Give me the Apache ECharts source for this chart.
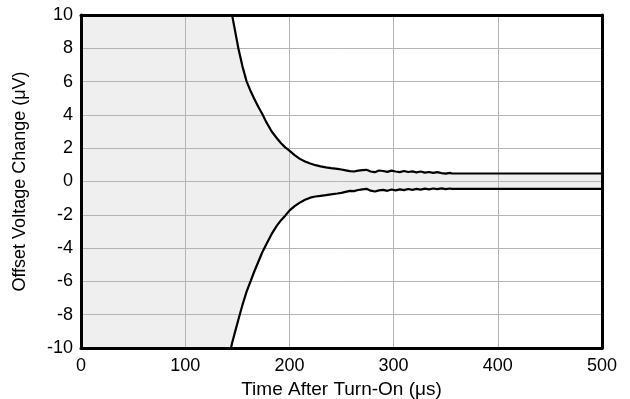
<!DOCTYPE html>
<html>
<head>
<meta charset="utf-8">
<script src="https://cdn.jsdelivr.net/npm/echarts@6/dist/echarts.min.js"></script>
<style>html,body{margin:0;padding:0;background:#fff;}#c{width:630px;height:399px;}</style>
</head>
<body>
<div id="c"></div>
<script>
// Time after turn-on (µs)
var timeUs = [144, 145, 148, 151, 155, 159, 163, 166, 170, 174, 178, 183, 188, 192, 196, 200, 205, 210, 215, 220, 225, 230, 235, 240, 246,
  250, 254, 258, 262, 266, 270, 274, 278, 282, 286, 290, 294, 298, 302, 306, 310, 314, 318, 322, 326, 330, 334, 338, 342, 346, 350, 354, 356, 500];
// Upper envelope (µV)
var upperUv = [10.3, 10.0, 9.0, 8.0, 6.9, 6.0, 5.4, 5.0, 4.5, 4.05, 3.55, 3.0, 2.6, 2.3, 2.05, 1.85, 1.58, 1.36, 1.2, 1.08, 0.98, 0.91, 0.85, 0.8, 0.76,
  0.72, 0.67, 0.62, 0.6, 0.65, 0.68, 0.7, 0.6, 0.56, 0.66, 0.63, 0.58, 0.65, 0.6, 0.56, 0.63, 0.57, 0.61, 0.55, 0.6, 0.53, 0.57, 0.52, 0.56, 0.5, 0.47, 0.52, 0.48, 0.48];
// Lower envelope (µV)
var lowerUv = [-10.0, -9.7, -9.0, -8.3, -7.4, -6.6, -5.95, -5.45, -4.85, -4.25, -3.75, -3.15, -2.65, -2.32, -2.05, -1.75, -1.48, -1.27, -1.1, -0.97, -0.9, -0.86, -0.82, -0.77, -0.72,
  -0.68, -0.62, -0.56, -0.58, -0.51, -0.47, -0.44, -0.55, -0.6, -0.53, -0.5, -0.56, -0.48, -0.53, -0.47, -0.52, -0.45, -0.5, -0.44, -0.49, -0.43, -0.47, -0.42, -0.46, -0.41, -0.46, -0.42, -0.44, -0.44];
// Region before the first measured point is saturated (full scale)
var saturatedT = [0];
var xTicks = [0, 100, 200, 300, 400, 500];
var yTicks = [-10, -8, -6, -4, -2, 0, 2, 4, 6, 8, 10];

var yMin = yTicks[0], yMax = yTicks[yTicks.length - 1];
var fillT = saturatedT.concat(timeUs);
var fillLower = [yMin].concat(lowerUv);
var fillUpper = [yMax].concat(upperUv);

function pairs(xs, ys) { return xs.map(function (x, i) { return [x, ys[i]]; }); }
function clampY(v) { return Math.max(yMin, Math.min(yMax, v)); }

var font = 'Liberation Sans, Arial, sans-serif';
var chart = echarts.init(document.getElementById('c'), null, { renderer: 'canvas' });
var gridLine = { show: true, lineStyle: { color: '#b4b4b4', width: 1 } };
var border = { show: true, onZero: false, lineStyle: { color: '#000', width: 3 } };
chart.setOption({
  animation: false,
  backgroundColor: '#fff',
  grid: { left: 81, right: 28, top: 15, bottom: 51, containLabel: false, outerBoundsMode: 'none' },
  xAxis: [{
    type: 'value', min: xTicks[0], max: xTicks[xTicks.length - 1], interval: 100, z: 3,
    name: 'Time After Turn-On (μs)', nameLocation: 'middle', nameGap: 27,
    nameTextStyle: { color: '#000', fontSize: 19, fontFamily: font },
    axisLine: border,
    axisTick: { show: false },
    axisLabel: { color: '#000', fontSize: 18, fontFamily: font, margin: 9 },
    splitLine: gridLine
  }, {
    type: 'value', position: 'top', min: xTicks[0], max: xTicks[xTicks.length - 1], z: 3,
    axisLine: border,
    axisTick: { show: false }, axisLabel: { show: false }, splitLine: { show: false }
  }],
  yAxis: [{
    type: 'value', min: yMin, max: yMax, interval: 2, z: 3,
    name: 'Offset Voltage Change (μV)', nameLocation: 'middle', nameGap: 52,
    nameTextStyle: { color: '#000', fontSize: 18, fontFamily: font },
    axisLine: border,
    axisTick: { show: false },
    axisLabel: { color: '#000', fontSize: 18, fontFamily: font, margin: 8 },
    splitLine: gridLine
  }, {
    type: 'value', position: 'right', min: yMin, max: yMax, z: 3,
    axisLine: border,
    axisTick: { show: false }, axisLabel: { show: false }, splitLine: { show: false }
  }],
  series: [
    { type: 'custom', name: 'band', z: 1, silent: true,
      data: fillT.map(function (t, i) { return [t, fillLower[i], fillUpper[i]]; }),
      encode: { x: 0, y: [1, 2] },
      renderItem: function (params, api) {
        if (params.dataIndex !== 0) return null;
        var pts = [];
        for (var i = 0; i < fillT.length; i++) pts.push(api.coord([fillT[i], clampY(fillUpper[i])]));
        for (var j = fillT.length - 1; j >= 0; j--) pts.push(api.coord([fillT[j], clampY(fillLower[j])]));
        return { type: 'polygon', shape: { points: pts }, style: { fill: '#efefef', stroke: null } };
      }
    },
    { type: 'line', name: 'upper', z: 4, symbol: 'none', clip: true,
      data: pairs(timeUs, upperUv), lineStyle: { color: '#000', width: 2.2 } },
    { type: 'line', name: 'lower', z: 4, symbol: 'none', clip: true,
      data: pairs(timeUs, lowerUv), lineStyle: { color: '#000', width: 2.2 } }
  ]
});
</script>
</body>
</html>
